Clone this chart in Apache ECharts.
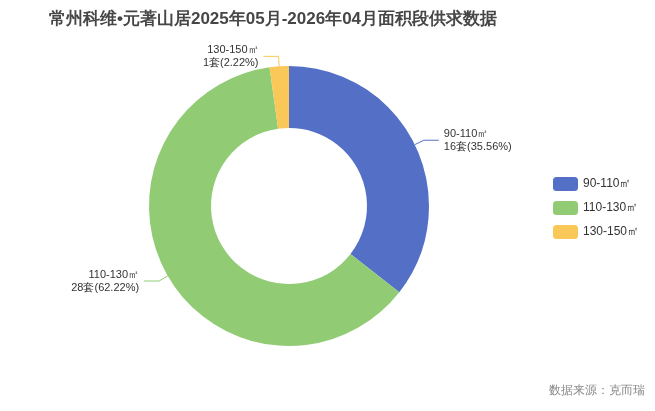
<!DOCTYPE html>
<html><head><meta charset="utf-8">
<script src="https://cdn.jsdelivr.net/npm/echarts@6/dist/echarts.min.js"></script>
<style>html,body{margin:0;padding:0}#c{width:655px;height:411px}</style>
</head><body><div id="c"></div>
<script>
const categories = ['90-110㎡', '110-130㎡', '130-150㎡'];
const counts = [16, 28, 1];
const colors = ['#5470c6', '#91cc75', '#fac858'];
const chart = echarts.init(document.getElementById('c'));
chart.setOption({
  color: colors,
  title: {text: '常州科维•元著山居2025年05月-2026年04月面积段供求数据', left: 44, top: 6,
    textStyle: {fontSize: 17, fontWeight: 'bold', color: '#464646'}},
  legend: {orient: 'vertical', left: 548, top: 172, itemWidth: 25, itemHeight: 14, itemGap: 10,
    textStyle: {fontSize: 12, color: '#333'}, data: categories},
  graphic: [{type: 'text', right: 10, bottom: 14, style: {text: '数据来源：克而瑞', fill: '#888', fontSize: 12}}],
  series: [{
    type: 'pie', center: [289, 206], radius: [78, 140],
    data: categories.map((n, i) => ({name: n, value: counts[i]})),
    label: {formatter: '{b}\n{c}套({d}%)', fontSize: 11, color: '#333', lineHeight: 13},
    labelLine: {length: 10, length2: 15}
  }]
});
</script></body></html>
